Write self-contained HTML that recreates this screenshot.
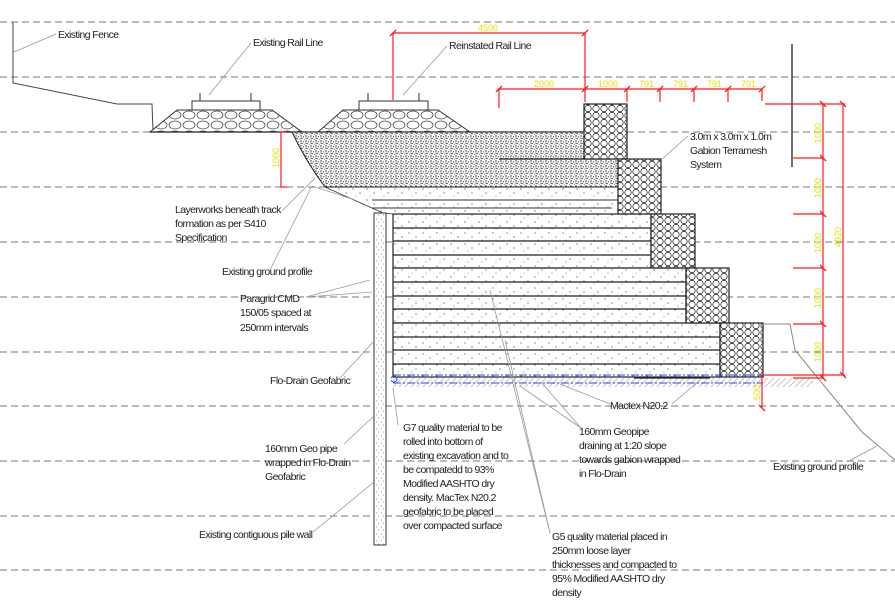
<!DOCTYPE html>
<html><head><meta charset="utf-8"><style>
html,body{margin:0;padding:0;background:#fff;}
svg{display:block;}
text{font-family:"Liberation Sans",Arial,sans-serif;font-size:10.5px;fill:#222;letter-spacing:-0.6px;}
.y{fill:#e8e000;font-size:9px;letter-spacing:0;}
</style></head><body>
<svg width="895" height="616" viewBox="0 0 895 616" xmlns="http://www.w3.org/2000/svg">
<defs>
<pattern id="hex" width="8" height="7" patternUnits="userSpaceOnUse">
<rect width="8" height="7" fill="#fff"/>
<circle cx="4" cy="3.5" r="3.2" fill="none" stroke="#333" stroke-width="0.8"/>
</pattern>
<pattern id="dense" width="5" height="5" patternUnits="userSpaceOnUse">
<rect width="5" height="5" fill="#fff"/>
<circle cx="1" cy="1" r="0.7" fill="#222"/><circle cx="3.5" cy="1.8" r="0.6" fill="#333"/>
<circle cx="2" cy="3.5" r="0.7" fill="#222"/><circle cx="4.3" cy="4.3" r="0.5" fill="#444"/>
<circle cx="0.4" cy="3" r="0.5" fill="#555"/>
</pattern>
<pattern id="light" width="14" height="11" patternUnits="userSpaceOnUse">
<rect width="14" height="11" fill="#fff"/>
<circle cx="3" cy="2" r="0.6" fill="#444"/><circle cx="10" cy="6" r="0.6" fill="#444"/>
<circle cx="6" cy="9" r="0.5" fill="#666"/>
</pattern>
<pattern id="ball" width="14" height="10" patternUnits="userSpaceOnUse">
<rect width="14" height="10" fill="#fff"/>
<ellipse cx="7" cy="5" rx="6" ry="4" fill="none" stroke="#444" stroke-width="0.7"/>
</pattern>
<pattern id="hatch" width="6" height="6" patternUnits="userSpaceOnUse">
<path d="M0 6 L6 0" stroke="#bbb" stroke-width="0.8"/>
</pattern>
<pattern id="pile" width="5" height="7" patternUnits="userSpaceOnUse">
<rect width="5" height="7" fill="#fff"/>
<circle cx="1.5" cy="2" r="0.5" fill="#666"/><circle cx="3.5" cy="5" r="0.5" fill="#777"/>
</pattern>
</defs>

<g stroke="#777" stroke-width="1" stroke-dasharray="7,4">
<line x1="0" y1="22" x2="895" y2="22"/>
<line x1="0" y1="77" x2="895" y2="77"/>
<line x1="0" y1="132" x2="895" y2="132"/>
<line x1="0" y1="187" x2="895" y2="187"/>
<line x1="0" y1="242" x2="895" y2="242"/>
<line x1="0" y1="297" x2="895" y2="297"/>
<line x1="0" y1="352" x2="895" y2="352"/>
<line x1="0" y1="406" x2="895" y2="406"/>
<line x1="0" y1="461" x2="895" y2="461"/>
<line x1="0" y1="516" x2="895" y2="516"/>
<line x1="0" y1="570" x2="895" y2="570"/>
</g>

<polyline points="13,22 13,83 117,104 152,104 153,132" fill="none" stroke="#444" stroke-width="1"/>
<polygon points="150,132 177,110 272,110 302,132" fill="url(#ball)" stroke="#333" stroke-width="1"/>
<rect x="192" y="101" width="68" height="9" fill="#fff" stroke="#333"/>
<line x1="200" y1="93" x2="200" y2="101" stroke="#333"/><line x1="251" y1="93" x2="251" y2="101" stroke="#333"/>
<polygon points="318,132 343,110 438,110 470,132" fill="url(#ball)" stroke="#333" stroke-width="1"/>
<rect x="359" y="101" width="69" height="9" fill="#fff" stroke="#333"/>
<line x1="368" y1="93" x2="368" y2="101" stroke="#333"/><line x1="419" y1="93" x2="419" y2="101" stroke="#333"/>
<line x1="150" y1="132" x2="584" y2="132" stroke="#222" stroke-width="1.2"/>

<polygon points="325,187 618,187 618,214 393,214 383,213" fill="url(#light)" stroke="#333" stroke-width="0.8"/>
<g stroke="#333" stroke-width="1"><line x1="372" y1="200" x2="618" y2="200"/><line x1="372" y1="208" x2="612" y2="208"/></g>
<path d="M292,132 L612,132 L612,159 L618,159 L618,187 L325,187 Q305,160 292,132 Z" fill="url(#dense)" stroke="#222" stroke-width="1"/>
<line x1="499" y1="159" x2="612" y2="159" stroke="#222" stroke-width="1.2"/>

<g stroke="#222" stroke-width="1.2">
<rect x="393" y="214" width="258" height="54" fill="url(#light)"/>
<rect x="393" y="268" width="293" height="55" fill="url(#light)"/>
<rect x="393" y="323" width="327" height="54" fill="url(#light)"/>
<line x1="393" y1="228" x2="651" y2="228"/><line x1="393" y1="241" x2="651" y2="241"/><line x1="393" y1="255" x2="651" y2="255"/>
<line x1="393" y1="282" x2="686" y2="282"/><line x1="393" y1="296" x2="686" y2="296"/><line x1="393" y1="309" x2="686" y2="309"/>
<line x1="393" y1="337" x2="720" y2="337"/><line x1="393" y1="350" x2="720" y2="350"/><line x1="393" y1="364" x2="720" y2="364"/>
</g>
<g stroke="#222" stroke-width="1.2" fill="url(#hex)">
<rect x="584" y="104" width="43" height="55"/>
<rect x="618" y="159" width="43" height="55"/>
<rect x="651" y="214" width="44" height="54"/>
<rect x="686" y="268" width="43" height="55"/>
<rect x="720" y="323" width="43" height="54"/>
</g>
<rect x="393" y="378" width="420" height="9" fill="url(#hatch)"/>
<g stroke="#3344dd" stroke-width="1" stroke-dasharray="8,2,2,2" fill="none">
<line x1="393" y1="375" x2="763" y2="375"/><line x1="393" y1="383" x2="763" y2="383"/>
<circle cx="394" cy="379" r="3"/>
</g>
<line x1="634" y1="378" x2="710" y2="378" stroke="#222" stroke-width="1.2"/>

<rect x="374" y="213" width="12" height="332" fill="url(#pile)" stroke="#333" stroke-width="1"/>

<polyline points="764,324 790,324 795,350 862,432 895,460" fill="none" stroke="#888" stroke-width="1"/>
<line x1="792" y1="44" x2="792" y2="167" stroke="#222" stroke-width="1.3"/>

<g stroke="#ff1a1a" stroke-width="1.2" fill="none">
<polyline points="393,100 393,33 585,33 585,102"/>
<polyline points="499,108 499,89 762,89 762,101"/>
<line x1="627" y1="89" x2="627" y2="102"/><line x1="660" y1="89" x2="660" y2="102"/>
<line x1="694" y1="89" x2="694" y2="102"/><line x1="728" y1="89" x2="728" y2="102"/>
<line x1="765" y1="104" x2="845" y2="104"/>
<line x1="823" y1="104" x2="823" y2="379"/><line x1="843" y1="104" x2="843" y2="375"/>
<line x1="793" y1="158" x2="823" y2="158"/><line x1="793" y1="214" x2="823" y2="214"/>
<line x1="793" y1="268" x2="823" y2="268"/><line x1="793" y1="324" x2="823" y2="324"/>
<line x1="763" y1="375" x2="845" y2="375"/><line x1="793" y1="378" x2="823" y2="378"/>
<line x1="762" y1="375" x2="762" y2="408"/>
<polyline points="287,132 281,132 281,187 287,187"/>
</g>
<g stroke="#ff1a1a" stroke-width="1.3">
<line x1="390" y1="36" x2="396" y2="30"/><line x1="582" y1="36" x2="588" y2="30"/>
<line x1="496" y1="92" x2="502" y2="86"/><line x1="582" y1="92" x2="588" y2="86"/><line x1="624" y1="92" x2="630" y2="86"/>
<line x1="657" y1="92" x2="663" y2="86"/><line x1="691" y1="92" x2="697" y2="86"/><line x1="725" y1="92" x2="731" y2="86"/><line x1="759" y1="92" x2="765" y2="86"/>
<line x1="820" y1="101" x2="826" y2="107"/><line x1="840" y1="101" x2="846" y2="107"/>
<line x1="820" y1="155" x2="826" y2="161"/><line x1="820" y1="211" x2="826" y2="217"/>
<line x1="820" y1="265" x2="826" y2="271"/><line x1="820" y1="321" x2="826" y2="327"/>
<line x1="820" y1="375" x2="826" y2="381"/><line x1="840" y1="372" x2="846" y2="378"/>
<line x1="759" y1="405" x2="765" y2="411"/>
</g>
<g>
<text class="y" x="478" y="31">4500</text>
<text class="y" x="534" y="87">2000</text><text class="y" x="598" y="87">1000</text>
<text class="y" x="639" y="87">791</text><text class="y" x="673" y="87">791</text>
<text class="y" x="707" y="87">791</text><text class="y" x="741" y="87">791</text>
<text class="y" transform="translate(279,168) rotate(-90)">1000</text>
<text class="y" transform="translate(821,143) rotate(-90)">1000</text>
<text class="y" transform="translate(821,198) rotate(-90)">1000</text>
<text class="y" transform="translate(821,253) rotate(-90)">1000</text>
<text class="y" transform="translate(821,308) rotate(-90)">1000</text>
<text class="y" transform="translate(821,362) rotate(-90)">1000</text>
<text class="y" transform="translate(841,247) rotate(-90)">4920</text>
<text class="y" transform="translate(760,400) rotate(-90)">500</text>
</g>

<g stroke="#999" stroke-width="0.8" fill="none">
<line x1="56" y1="34" x2="14" y2="52"/>
<line x1="251" y1="43" x2="209" y2="95"/>
<line x1="447" y1="46" x2="403" y2="95"/>
<line x1="282" y1="211" x2="315" y2="178"/>
<line x1="270" y1="270" x2="312" y2="186"/><line x1="312" y1="186" x2="355" y2="200"/>
<line x1="306" y1="297" x2="370" y2="280"/><line x1="306" y1="297" x2="372" y2="292"/>
<line x1="340" y1="378" x2="375" y2="340"/>
<line x1="344" y1="444" x2="375" y2="415"/>
<line x1="313" y1="532" x2="374" y2="482"/>
<line x1="398" y1="425" x2="393" y2="388"/>
<line x1="610" y1="404" x2="560" y2="384"/>
<line x1="581" y1="428" x2="541" y2="382"/><line x1="581" y1="428" x2="520" y2="386"/>
<line x1="550" y1="533" x2="490" y2="290"/><line x1="550" y1="533" x2="505" y2="340"/>
<line x1="672" y1="404" x2="700" y2="380"/>
<line x1="688" y1="136" x2="661" y2="160"/>
<line x1="847" y1="462" x2="877" y2="446"/>
</g>

<text x="58" y="38">Existing Fence</text>
<text x="253" y="46">Existing Rail Line</text>
<text x="449" y="49">Reinstated Rail Line</text>
<text x="690" y="140">3.0m x 3.0m x 1.0m</text>
<text x="690" y="154">Gabion Terramesh</text>
<text x="690" y="168">System</text>
<text x="175" y="213">Layerworks beneath track</text>
<text x="175" y="227">formation as per S410</text>
<text x="175" y="241">Specification</text>
<text x="222" y="275">Existing ground profile</text>
<text x="240" y="302">Paragrid CMD</text>
<text x="240" y="316">150/05 spaced at</text>
<text x="240" y="331">250mm intervals</text>
<text x="270" y="384">Flo-Drain Geofabric</text>
<text x="265" y="452">160mm Geo pipe</text>
<text x="265" y="466">wrapped in Flo-Drain</text>
<text x="265" y="480">Geofabric</text>
<text x="199" y="538">Existing contiguous pile wall</text>
<text x="403" y="431">G7 quality material to be</text>
<text x="403" y="445">rolled into bottom of</text>
<text x="403" y="459">existing excavation and to</text>
<text x="403" y="473">be compatedd to 93%</text>
<text x="403" y="487">Modified AASHTO dry</text>
<text x="403" y="501">density. MacTex N20.2</text>
<text x="403" y="515">geofabric to be placed</text>
<text x="403" y="529">over compacted surface</text>
<text x="610" y="409">Mactex N20.2</text>
<text x="579" y="435">160mm Geopipe</text>
<text x="579" y="449">draining at 1:20 slope</text>
<text x="579" y="463">towards gabion wrapped</text>
<text x="579" y="477">in Flo-Drain</text>
<text x="773" y="470">Existing ground profile</text>
<text x="552" y="540">G5 quality material placed in</text>
<text x="552" y="554">250mm loose layer</text>
<text x="552" y="568">thicknesses and compacted to</text>
<text x="552" y="582">95% Modified AASHTO dry</text>
<text x="552" y="596">density</text>
</svg>
</body></html>
